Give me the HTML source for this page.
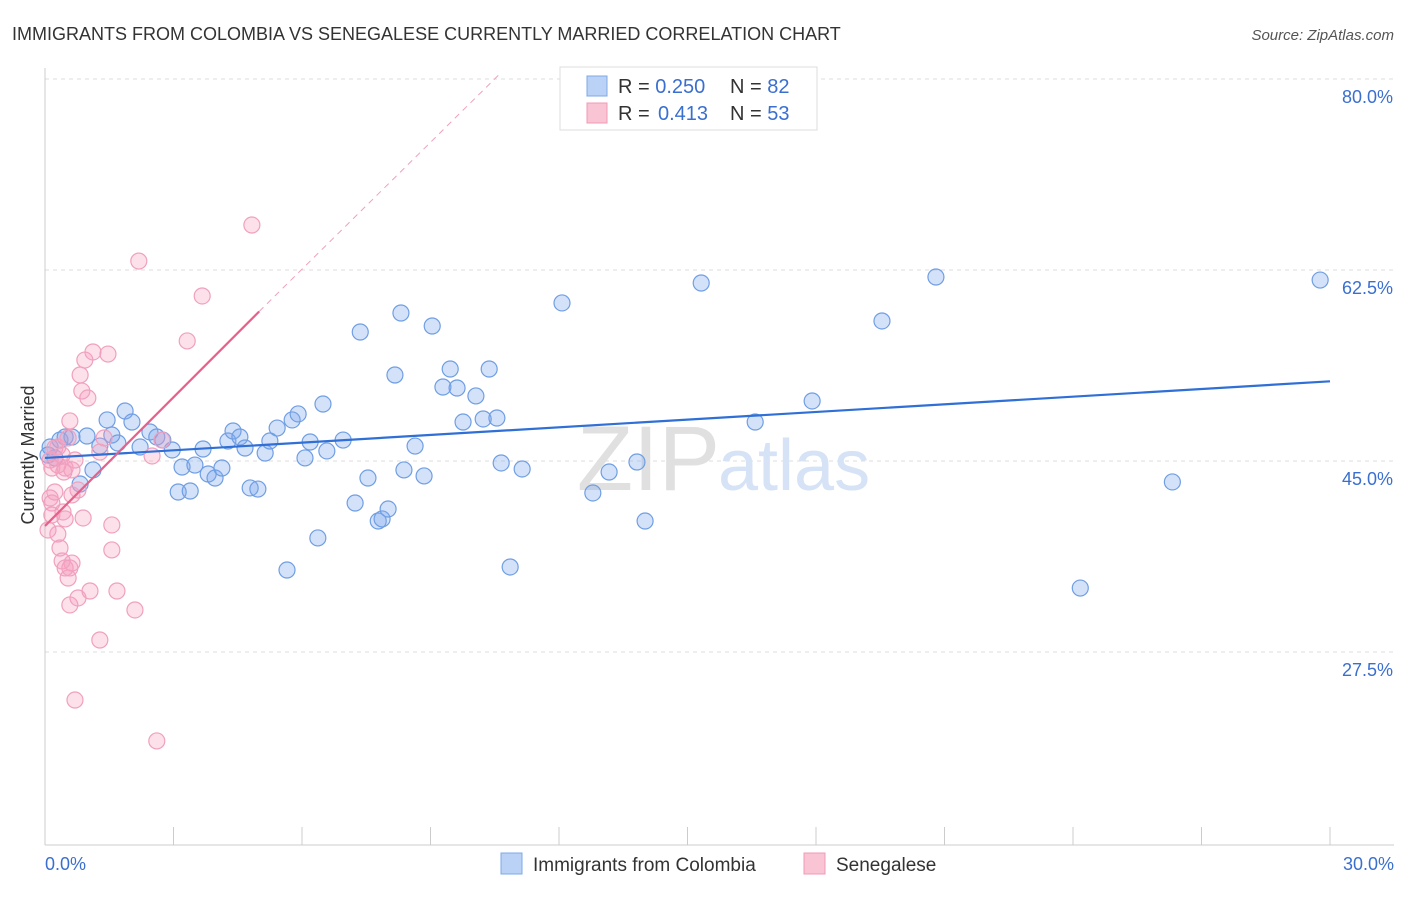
<!DOCTYPE html>
<html><head><meta charset="utf-8"><style>
body{margin:0;background:#fff;font-family:"Liberation Sans",sans-serif;}
svg text{font-family:"Liberation Sans",sans-serif;}
</style></head><body>
<svg id="chart" width="1406" height="892" viewBox="0 0 1406 892">
<text x="12" y="40" font-size="18" fill="#333">IMMIGRANTS FROM COLOMBIA VS SENEGALESE CURRENTLY MARRIED CORRELATION CHART</text>
<text x="1394" y="40" font-size="15" fill="#555" font-style="italic" text-anchor="end">Source: ZipAtlas.com</text>
<g id="grid"></g>
<text x="720" y="490" font-size="92" fill="#e0e0e0" text-anchor="end" font-family="Liberation Serif">ZIP</text>
<text x="718" y="490" font-size="72" fill="#d6e2f5">atlas</text>
<g id="axes"></g>
<g id="points"></g>
<g id="lines"></g>
<text transform="translate(34,455) rotate(-90)" font-size="18" fill="#333" text-anchor="middle">Currently Married</text>
<g>
<rect x="560" y="67" width="257" height="63" fill="#fff" stroke="#ddd"/>
<rect x="587" y="76" width="20" height="20" fill="#b9d2f5" stroke="#7fa8e6"/>
<rect x="587" y="103" width="20" height="20" fill="#f9c4d4" stroke="#f09ab6"/>
<text x="618" y="93" font-size="20" fill="#333">R = <tspan fill="#3a6fd0">0.250</tspan><tspan x="730">N = </tspan><tspan fill="#3a6fd0">82</tspan></text>
<text x="618" y="120" font-size="20" fill="#333">R = <tspan x="658" fill="#3a6fd0">0.413</tspan><tspan x="730">N = </tspan><tspan fill="#3a6fd0">53</tspan></text>
</g>
<g>
<rect x="501" y="853" width="21" height="21" fill="#b9d2f5" stroke="#7fa8e6"/>
<text x="533" y="871" font-size="19" fill="#333">Immigrants from Colombia</text>
<rect x="804" y="853" width="21" height="21" fill="#f9c4d4" stroke="#f09ab6"/>
<text x="836" y="871" font-size="19" fill="#333">Senegalese</text>
</g>
</svg>
<script>
const blueX=[0.12,0.23,0.35,0.47,0.63,0.98,1.12,0.82,1.28,1.45,1.56,1.70,1.87,2.03,2.22,2.45,2.61,2.75,2.97,3.11,3.20,3.39,3.50,3.69,3.81,3.97,4.13,4.27,4.39,4.55,4.67,4.79,4.97,5.14,5.25,5.42,5.77,5.91,6.07,6.19,6.49,6.58,6.96,7.24,7.36,7.54,7.78,7.87,8.01,8.17,8.31,8.38,8.64,8.85,9.04,9.29,9.46,9.62,9.76,10.06,10.23,10.37,10.55,10.65,10.86,11.14,12.07,12.79,13.17,13.82,14.01,15.32,16.58,17.91,19.54,20.80,24.17,26.32,29.77,6.37,5.65,0.07];
const blueY=[46.28,45.28,46.92,47.20,47.20,47.29,44.18,42.89,46.37,48.76,47.38,46.65,49.58,48.57,46.28,47.66,47.20,46.92,46.01,42.16,44.45,42.25,44.63,46.10,43.81,43.44,44.36,46.83,47.75,47.20,46.19,42.53,42.43,45.73,46.83,48.02,48.76,49.31,45.28,46.74,50.22,45.92,46.92,41.15,56.82,43.44,39.50,39.69,40.60,52.88,58.56,44.18,46.37,43.63,57.37,51.78,53.43,51.69,48.57,50.96,48.85,53.43,48.94,44.82,35.29,44.27,59.48,42.07,43.99,44.91,39.50,61.31,48.57,50.50,57.83,61.86,33.36,43.08,61.58,37.95,35.01,45.55];
const pinkX=[0.12,0.16,0.23,0.30,0.40,0.47,0.54,0.58,0.63,0.70,0.77,0.82,0.86,0.93,1.00,1.12,1.28,1.38,1.47,1.56,1.56,1.68,2.10,1.28,0.70,2.61,2.19,3.67,3.32,4.83,2.50,2.73,0.12,0.16,0.23,0.30,0.35,0.42,0.47,0.40,0.54,0.58,0.63,0.47,0.77,0.89,1.05,0.58,0.07,0.16,0.30,0.44,0.63];
const pinkY=[45.09,44.36,46.19,46.28,45.55,44.36,47.11,48.67,44.18,45.09,42.34,52.88,51.41,54.25,50.77,54.99,45.82,47.11,54.80,39.14,36.85,33.09,31.35,28.60,23.10,19.35,63.32,60.12,56.00,66.62,45.46,46.92,41.61,41.15,42.16,38.31,37.03,40.33,39.69,35.84,34.28,31.81,35.65,35.20,32.45,39.78,33.09,35.20,38.68,40.05,44.63,43.99,41.89];
const blueTrend=[0,45.28,30,52.3];
const pinkTrend=[0,39.05,5.0,58.7];
const pinkDash=[5.0,58.7,10.6,80.4];
const yTicks=[80,62.5,45,27.5];
const yTickLabels=["80.0%","62.5%","45.0%","27.5%"];
const xTicks=[0,3,6,9,12,15,18,21,24,27,30];

const NS="http://www.w3.org/2000/svg";
const X=v=>45+v/30*1285;
const Y=v=>79+(80-v)/17.5*191;
function mk(tag,attrs,parent){const e=document.createElementNS(NS,tag);for(const k in attrs)e.setAttribute(k,attrs[k]);document.getElementById(parent).appendChild(e);return e;}
yTicks.forEach((t,i)=>{
  const l=mk('line',{x1:45,x2:1394,y1:Y(t),y2:Y(t),stroke:'#ddd','stroke-dasharray':'4,4'},'grid');
  
  
  const tx=mk('text',{x:1393,y:Y(t)+24,'font-size':18,fill:'#3a6fd0','text-anchor':'end'},'axes');
  tx.textContent=yTickLabels[i];
  
  
});
const ax=mk('line',{x1:45,x2:45,y1:68,y2:845,stroke:'#ccc'},'axes');


const bx=mk('line',{x1:45,x2:1394,y1:845,y2:845,stroke:'#ccc'},'axes');


xTicks.forEach(t=>{
  const l=mk('line',{x1:X(t),x2:X(t),y1:827,y2:845,stroke:'#ccc'},'axes');
  
  
});
const xl0=mk('text',{x:45,y:870,'font-size':18,fill:'#3a6fd0'},'axes');xl0.textContent=xTicks[0].toFixed(1)+'%';


const xl1=mk('text',{x:1394,y:870,'font-size':18,fill:'#3a6fd0','text-anchor':'end'},'axes');xl1.textContent=xTicks[xTicks.length-1].toFixed(1)+'%';


blueX.forEach((v,i)=>{
  const c=mk('circle',{cx:X(v),cy:Y(blueY[i]),r:8,fill:'rgba(120,165,235,0.32)',stroke:'#6f9ee3','stroke-width':1.2},'points');
  
  
});
pinkX.forEach((v,i)=>{
  const c=mk('circle',{cx:X(v),cy:Y(pinkY[i]),r:8,fill:'rgba(245,160,190,0.32)',stroke:'#f0a0be','stroke-width':1.2},'points');
  
  
});
const bl=mk('line',{x1:X(blueTrend[0]),y1:Y(blueTrend[1]),x2:X(blueTrend[2]),y2:Y(blueTrend[3]),stroke:'#2f6fd6','stroke-width':2.2},'lines');


const pl=mk('line',{x1:X(pinkTrend[0]),y1:Y(pinkTrend[1]),x2:X(pinkTrend[2]),y2:Y(pinkTrend[3]),stroke:'#e8608a','stroke-width':2.2},'lines');


const pd=mk('line',{x1:X(pinkDash[0]),y1:Y(pinkDash[1]),x2:X(pinkDash[2]),y2:Y(pinkDash[3]),stroke:'#f0a0be','stroke-width':1,'stroke-dasharray':'6,5'},'lines');


</script>
</body></html>
